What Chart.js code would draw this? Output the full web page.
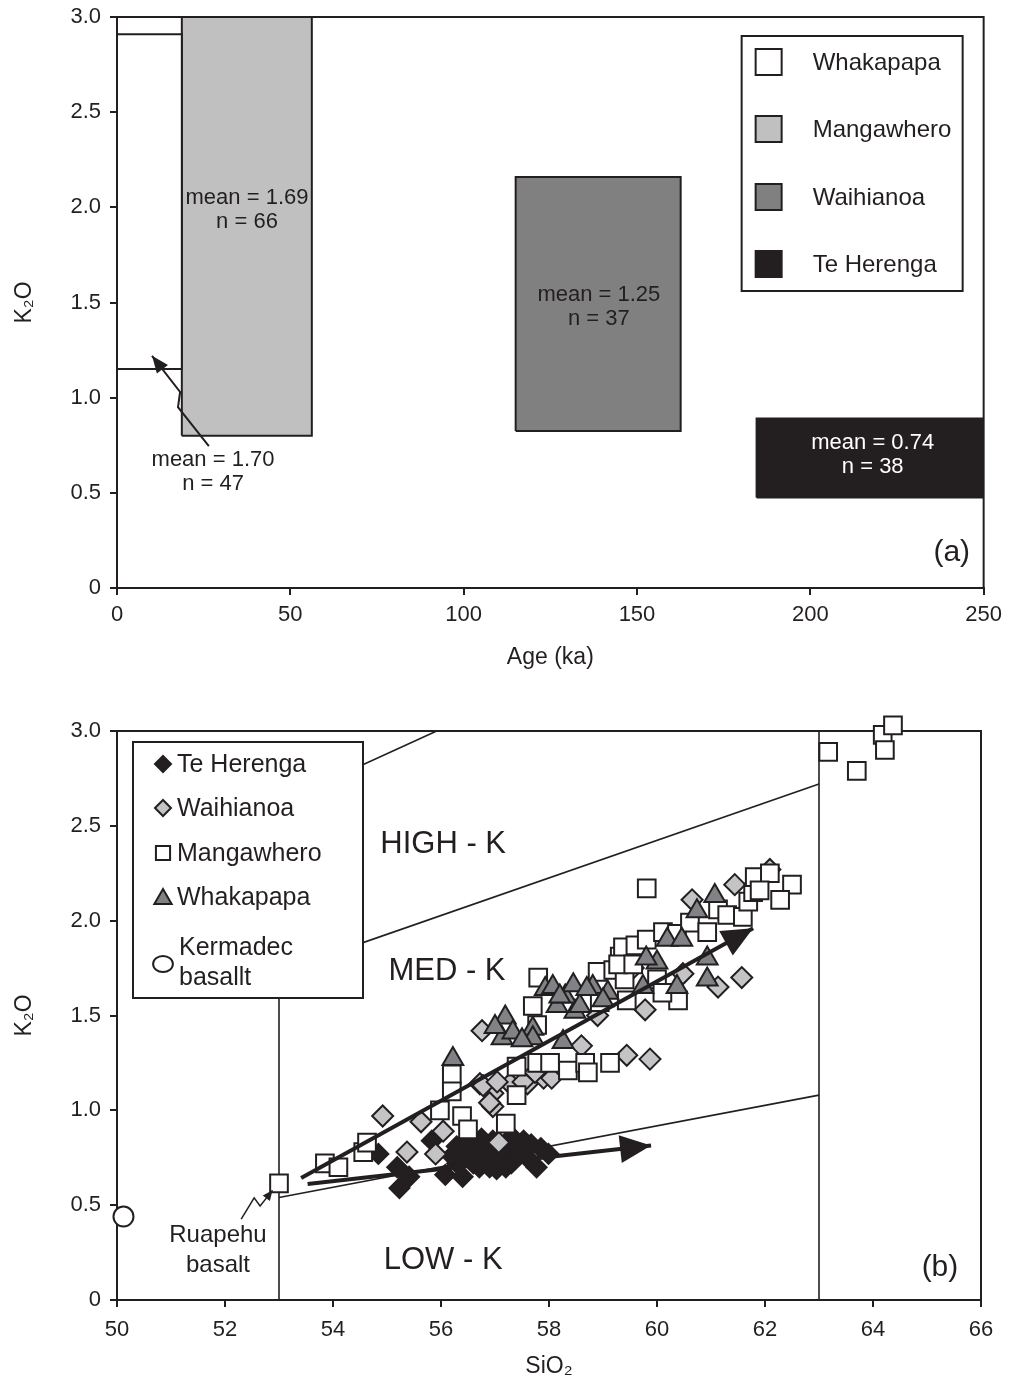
<!DOCTYPE html>
<html>
<head>
<meta charset="utf-8">
<title>K2O vs age and SiO2</title>
<script src="https://cdn.jsdelivr.net/npm/chart.js@4.4.1/dist/chart.umd.min.js"></script>
<style>
  html, body { margin: 0; padding: 0; background: #fff; }
  .panel { position: absolute; left: 0; }
  #panelA { top: 0; }
  #panelB { top: 700px; }
</style>
</head>
<body>
<div class="panel" id="panelA"><canvas id="ageChart" width="1009" height="690"></canvas></div>
<div class="panel" id="panelB"><canvas id="silicaChart" width="1009" height="686"></canvas></div>
<script>
const INK = '#231f20';
const FONT = '"Liberation Sans", Arial, Helvetica, sans-serif';

// ---- panel (a): K2O range of each formation against age ----
const units = ['Whakapapa', 'Mangawhero', 'Waihianoa', 'Te Herenga'];
const unitFills = ['#ffffff', '#c0c0c0', '#808080', '#231f20'];
const ageFrom = [0, 18.7, 115, 184.5];
const ageTo = [18.7, 56.2, 162.6, 250];
const k2oLow = [1.15, 0.80, 0.825, 0.475];
const k2oHigh = [2.91, 3.0, 2.16, 0.89];
const k2oMean = [1.70, 1.69, 1.25, 0.74];
const sampleCount = [47, 66, 37, 38];
const ageTicks = [0, 50, 100, 150, 200, 250];
const k2oTicks = [0, 0.5, 1.0, 1.5, 2.0, 2.5, 3.0];

// where the "mean / n" notes sit, in axis units
const noteAge = [27.7, 37.5, 139, 218];
const noteK2o = [0.673, 2.05, 1.54, 0.762];
// pointer from the Whakapapa note up to its box
const pointerAge = [26.5, 17.6, 18.2, 10.1];
const pointerK2o = [0.746, 0.95, 1.03, 1.22];

// ---- panel (b): K2O vs SiO2 ----
const silicaTicks = [50, 52, 54, 56, 58, 60, 62, 64, 66];

const teHerengaSiO2 = [55.23, 55.41, 55.19, 54.84, 55.83, 56.08, 56.40, 56.71, 57.03, 57.20, 57.77, 57.99,
  57.46, 57.53, 56.40, 56.65, 56.89, 57.24, 57.39, 56.82, 56.54, 57.10, 57.67, 56.96, 56.29, 56.30,
  56.60, 56.90, 57.30, 57.60, 57.15, 56.50, 57.35, 56.75, 56.20, 57.85];
const teHerengaK2O = [0.59, 0.65, 0.70, 0.77, 0.84, 0.66, 0.65, 0.70, 0.69, 0.70, 0.70, 0.77,
  0.79, 0.84, 0.78, 0.80, 0.78, 0.84, 0.76, 0.74, 0.76, 0.74, 0.82, 0.84, 0.81, 0.72,
  0.72, 0.70, 0.72, 0.75, 0.80, 0.83, 0.85, 0.85, 0.76, 0.80];

const waihianoaSiO2 = [54.92, 55.37, 55.63, 55.90, 56.04, 57.07, 56.72, 56.96, 56.96, 57.28, 57.60, 57.90,
  58.05, 57.74, 56.90, 56.78, 57.04, 57.52, 56.76, 58.60, 59.44, 59.87, 58.90, 59.78, 59.56, 60.48,
  60.65, 61.44, 62.09, 61.57, 61.13, 61.90];
const waihianoaK2O = [0.97, 0.78, 0.94, 0.77, 0.89, 0.83, 1.14, 1.09, 1.02, 1.14, 1.14, 1.17,
  1.17, 1.20, 1.04, 1.13, 1.15, 1.15, 1.42, 1.34, 1.29, 1.27, 1.50, 1.53, 1.75, 1.72,
  2.11, 2.19, 2.27, 1.70, 1.65, 2.21];

const mangawheroSiO2 = [53.00, 53.85, 54.10, 54.56, 54.63, 55.98, 56.39, 56.50, 57.20, 56.20, 56.20, 57.40,
  57.78, 58.02, 58.35, 58.67, 58.72, 59.13, 57.40, 57.80, 57.70, 57.78, 58.94, 59.44, 58.90, 59.19,
  59.31, 59.37, 59.60, 59.81, 59.40, 60.00, 59.28, 59.56, 60.11, 60.37, 60.39, 60.61, 60.93, 61.13,
  61.30, 61.59, 61.69, 61.78, 61.81, 62.09, 62.50, 62.28, 61.90, 59.81, 60.10, 63.17, 63.70, 64.18,
  64.37, 64.22];
const mangawheroK2O = [0.615, 0.72, 0.70, 0.78, 0.83, 1.00, 0.97, 0.90, 0.93, 1.19, 1.10, 1.23,
  1.25, 1.25, 1.21, 1.25, 1.20, 1.25, 1.08, 1.70, 1.55, 1.45, 1.57, 1.58, 1.73, 1.74,
  1.81, 1.86, 1.87, 1.90, 1.69, 1.69, 1.77, 1.77, 1.94, 1.93, 1.58, 1.99, 1.94, 2.06,
  2.03, 2.02, 2.10, 2.15, 2.23, 2.25, 2.19, 2.11, 2.16, 2.17, 1.62, 2.89, 2.79, 2.98,
  3.03, 2.90];

const whakapapaSiO2 = [56.22, 57.19, 57.13, 57.33, 57.70, 57.70, 57.00, 58.15, 58.48, 58.26, 57.93, 58.07,
  58.30, 58.57, 58.45, 58.81, 59.09, 59.00, 58.70, 59.74, 60.00, 59.80, 60.19, 60.46, 60.74, 61.07,
  60.93, 60.93, 60.37, 57.50, 58.20];
const whakapapaK2O = [1.27, 1.49, 1.38, 1.41, 1.43, 1.38, 1.44, 1.55, 1.52, 1.36, 1.64, 1.65,
  1.60, 1.55, 1.66, 1.65, 1.62, 1.58, 1.64, 1.65, 1.78, 1.80, 1.90, 1.90, 2.05, 2.13,
  1.80, 1.69, 1.65, 1.37, 1.60];

const kermadecSiO2 = [50.12];
const kermadecK2O = [0.44];

// field boundaries (Gill-type low / medium / high K)
const dividerSiO2 = [53, 63];
const dividerTopK2O = [2.62, 3.0];
const lowMedSiO2 = [53, 63];
const lowMedK2O = [0.54, 1.08];
const medHighSiO2 = [53, 63];
const medHighK2O = [1.73, 2.72];
const highShoSiO2 = [53, 55.92];
const highShoK2O = [2.62, 3.0];

// trend arrows
const upperTrendSiO2 = [53.41, 61.78];
const upperTrendK2O = [0.643, 1.96];
const lowerTrendSiO2 = [53.53, 59.89];
const lowerTrendK2O = [0.612, 0.814];

// Ruapehu basalt pointer
const ruapehuPointerSiO2 = [52.30, 52.54, 52.65, 52.88];
const ruapehuPointerK2O = [0.426, 0.539, 0.496, 0.578];

function pairs(xs, ys) {
  return xs.map((x, i) => ({ x, y: ys[i] }));
}

function k2oLabel(value) {
  return value === 0 ? '0' : value.toFixed(1);
}

function arrowHead(ctx, fromX, fromY, tipX, tipY, len, half) {
  const dx = tipX - fromX;
  const dy = tipY - fromY;
  const d = Math.hypot(dx, dy) || 1;
  const ux = dx / d;
  const uy = dy / d;
  const bx = tipX - ux * len;
  const by = tipY - uy * len;
  ctx.beginPath();
  ctx.moveTo(tipX, tipY);
  ctx.lineTo(bx - uy * half, by + ux * half);
  ctx.lineTo(bx + uy * half, by - ux * half);
  ctx.closePath();
  ctx.fill();
}

function marker(ctx, style, cx, cy, r, fill) {
  ctx.beginPath();
  if (style === 'rectRot') {
    ctx.moveTo(cx - r, cy);
    ctx.lineTo(cx, cy - r);
    ctx.lineTo(cx + r, cy);
    ctx.lineTo(cx, cy + r);
    ctx.closePath();
  } else if (style === 'rect') {
    const s = r * Math.SQRT1_2;
    ctx.rect(cx - s, cy - s, 2 * s, 2 * s);
  } else if (style === 'triangle') {
    ctx.moveTo(cx, cy - r);
    ctx.lineTo(cx + 0.866 * r, cy + 0.5 * r);
    ctx.lineTo(cx - 0.866 * r, cy + 0.5 * r);
    ctx.closePath();
  } else {
    ctx.ellipse(cx, cy, r * 1.1, r * 0.9, 0, 0, Math.PI * 2);
  }
  ctx.fillStyle = fill;
  ctx.fill();
  ctx.stroke();
}

function frameTopRight(chart) {
  const { ctx, chartArea: a } = chart;
  ctx.save();
  ctx.strokeStyle = INK;
  ctx.lineWidth = 2;
  ctx.beginPath();
  ctx.moveTo(a.left, a.top);
  ctx.lineTo(a.right, a.top);
  ctx.lineTo(a.right, a.bottom);
  ctx.stroke();
  ctx.restore();
}

function axisOptions(min, max, tickValues, labelFn, title, titlePad, labelPad, size) {
  return {
    type: 'linear',
    min,
    max,
    afterBuildTicks: (scale) => { scale.ticks = tickValues.map((value) => ({ value })); },
    afterFit: size,
    ticks: { color: INK, font: { family: FONT, size: 22 }, padding: labelPad, callback: labelFn },
    grid: { drawOnChartArea: false, drawTicks: true, tickLength: 7, color: INK, lineWidth: 2 },
    border: { color: INK, width: 2 },
    title: { display: true, text: title, color: INK, font: { family: FONT, size: 23 }, padding: titlePad }
  };
}

function fixWidth(w) {
  return (s) => {
    s.width = w;
    s.paddingTop = 0;
    s.paddingBottom = 0;
  };
}

// ---------- panel (a) ----------
const agePanelExtras = {
  id: 'agePanelExtras',
  beforeDatasetsDraw(chart) {
    frameTopRight(chart);
  },
  afterDatasetsDraw(chart) {
    const { ctx, chartArea: a, scales: { x, y } } = chart;
    ctx.save();
    ctx.textAlign = 'center';
    ctx.textBaseline = 'middle';
    ctx.font = `22px ${FONT}`;
    units.forEach((unit, i) => {
      const px = x.getPixelForValue(noteAge[i]);
      const py = y.getPixelForValue(noteK2o[i]);
      ctx.fillStyle = i === 3 ? '#ffffff' : INK;
      ctx.fillText(`mean = ${k2oMean[i].toFixed(2)}`, px, py);
      ctx.fillText(`n = ${sampleCount[i]}`, px, py + 24);
    });

    // pointer with a kink
    ctx.strokeStyle = INK;
    ctx.fillStyle = INK;
    ctx.lineWidth = 2;
    const pts = pointerAge.map((v, i) => [x.getPixelForValue(v), y.getPixelForValue(pointerK2o[i])]);
    ctx.beginPath();
    pts.forEach(([px, py], i) => (i ? ctx.lineTo(px, py) : ctx.moveTo(px, py)));
    ctx.stroke();
    const n = pts.length;
    arrowHead(ctx, pts[n - 2][0], pts[n - 2][1], pts[n - 1][0], pts[n - 1][1], 17, 7);

    // legend
    const bx = a.right - 242;
    const by = a.top + 19;
    ctx.fillStyle = '#ffffff';
    ctx.fillRect(bx, by, 221, 255);
    ctx.strokeRect(bx, by, 221, 255);
    ctx.font = `24px ${FONT}`;
    ctx.textAlign = 'left';
    [26, 93, 161, 228].forEach((dy, i) => {
      ctx.fillStyle = unitFills[i];
      ctx.fillRect(bx + 14, by + dy - 13, 26, 26);
      ctx.strokeRect(bx + 14, by + dy - 13, 26, 26);
      ctx.fillStyle = INK;
      ctx.fillText(units[i], bx + 71, by + dy + 1);
    });

    ctx.textAlign = 'center';
    ctx.font = `30px ${FONT}`;
    ctx.fillText('(a)', x.getPixelForValue(240.8), y.getPixelForValue(0.184));
    ctx.restore();
  }
};

new Chart(document.getElementById('ageChart'), {
  type: 'scatter',
  data: {
    datasets: units.map((unit, i) => ({
      label: unit,
      data: pairs(
        [ageFrom[i], ageTo[i], ageTo[i], ageFrom[i], ageFrom[i]],
        [k2oLow[i], k2oLow[i], k2oHigh[i], k2oHigh[i], k2oLow[i]]
      ),
      showLine: true,
      fill: 'shape',
      backgroundColor: unitFills[i],
      borderColor: INK,
      borderWidth: 2,
      pointRadius: 0,
      tension: 0
    }))
  },
  options: {
    responsive: false,
    animation: false,
    events: [],
    layout: { padding: { top: 17, right: 25, bottom: 0, left: 0 } },
    plugins: { legend: { display: false }, tooltip: { enabled: false } },
    scales: {
      x: axisOptions(0, 250, ageTicks, (v) => String(v), 'Age (ka)', { top: 4, bottom: 19 }, 7,
        (s) => { s.height = 102; }),
      y: axisOptions(0, 3, k2oTicks, k2oLabel, 'K₂O', { top: 11, bottom: 4 }, 9, fixWidth(117))
    }
  },
  plugins: [agePanelExtras]
});

// ---------- panel (b) ----------
const seriesNames = ['Te Herenga', 'Waihianoa', 'Mangawhero', 'Whakapapa'];
const seriesStyles = ['rectRot', 'rectRot', 'rect', 'triangle'];
const seriesFills = ['#231f20', '#c4c4c6', '#ffffff', '#808285'];

const silicaPanelExtras = {
  id: 'silicaPanelExtras',
  beforeDatasetsDraw(chart) {
    frameTopRight(chart);
  },
  afterDatasetsDraw(chart) {
    const { ctx, chartArea: a, scales: { x, y } } = chart;
    ctx.save();
    ctx.fillStyle = INK;
    ctx.strokeStyle = INK;

    chart.data.datasets.forEach((ds, i) => {
      if (!ds.trendArrow) return;
      const pts = chart.getDatasetMeta(i).data;
      const p0 = pts[0];
      const p1 = pts[pts.length - 1];
      arrowHead(ctx, p0.x, p0.y, p1.x, p1.y, 31, 14);
    });

    // Ruapehu basalt pointer
    ctx.lineWidth = 1.5;
    const rp = ruapehuPointerSiO2.map((v, i) => [x.getPixelForValue(v), y.getPixelForValue(ruapehuPointerK2O[i])]);
    ctx.beginPath();
    rp.forEach(([px, py], i) => (i ? ctx.lineTo(px, py) : ctx.moveTo(px, py)));
    ctx.stroke();
    const m = rp.length;
    arrowHead(ctx, rp[m - 2][0], rp[m - 2][1], rp[m - 1][0], rp[m - 1][1], 10, 4.5);

    ctx.textAlign = 'center';
    ctx.textBaseline = 'middle';
    ctx.font = `24px ${FONT}`;
    ctx.fillText('Ruapehu', x.getPixelForValue(51.87), y.getPixelForValue(0.34));
    ctx.fillText('basalt', x.getPixelForValue(51.87), y.getPixelForValue(0.18));

    ctx.font = `31px ${FONT}`;
    ctx.fillText('HIGH - K', x.getPixelForValue(56.04), y.getPixelForValue(2.40));
    ctx.fillText('MED - K', x.getPixelForValue(56.11), y.getPixelForValue(1.73));
    ctx.fillText('LOW - K', x.getPixelForValue(56.04), y.getPixelForValue(0.21));
    ctx.font = `30px ${FONT}`;
    ctx.fillText('(b)', x.getPixelForValue(65.24), y.getPixelForValue(0.17));

    // legend
    const bx = a.left + 16;
    const by = a.top + 11;
    ctx.lineWidth = 2;
    ctx.fillStyle = '#ffffff';
    ctx.fillRect(bx, by, 230, 256);
    ctx.strokeRect(bx, by, 230, 256);
    ctx.font = `25px ${FONT}`;
    ctx.textAlign = 'left';
    const sizes = [8, 8, 10, 10];
    [22, 66, 111, 155].forEach((dy, i) => {
      marker(ctx, seriesStyles[i], bx + 30, by + dy + (seriesStyles[i] === 'triangle' ? 2 : 0), sizes[i], seriesFills[i]);
      ctx.fillStyle = INK;
      ctx.fillText(seriesNames[i], bx + 44, by + dy + 1);
    });
    marker(ctx, 'circle', bx + 30, by + 222, 9, '#ffffff');
    ctx.fillStyle = INK;
    ctx.fillText('Kermadec', bx + 46, by + 206);
    ctx.fillText('basallt', bx + 46, by + 236);
    ctx.restore();
  }
};

const markerBase = { borderColor: INK, borderWidth: 2, clip: false, showLine: false };
const lineBase = { showLine: true, pointRadius: 0, borderColor: INK, fill: false, tension: 0 };

new Chart(document.getElementById('silicaChart'), {
  type: 'scatter',
  data: {
    datasets: [
      { ...lineBase, label: 'upper trend', trendArrow: true, order: 0, borderWidth: 4,
        data: pairs(upperTrendSiO2, upperTrendK2O) },
      { ...lineBase, label: 'lower trend', trendArrow: true, order: 0, borderWidth: 4,
        data: pairs(lowerTrendSiO2, lowerTrendK2O) },
      { ...markerBase, label: 'Whakapapa', order: 1, pointStyle: 'triangle', pointRadius: 12,
        backgroundColor: '#808285', data: pairs(whakapapaSiO2, whakapapaK2O) },
      { ...markerBase, label: 'Mangawhero', order: 2, pointStyle: 'rect', pointRadius: 12.5,
        backgroundColor: '#ffffff', data: pairs(mangawheroSiO2, mangawheroK2O) },
      { ...markerBase, label: 'Waihianoa', order: 3, pointStyle: 'rectRot', pointRadius: 10.5,
        backgroundColor: '#c4c4c6', data: pairs(waihianoaSiO2, waihianoaK2O) },
      { ...markerBase, label: 'Te Herenga', order: 4, pointStyle: 'rectRot', pointRadius: 10,
        backgroundColor: '#231f20', data: pairs(teHerengaSiO2, teHerengaK2O) },
      { ...markerBase, label: 'Kermadec basalt', order: 5, pointStyle: 'circle', pointRadius: 10,
        backgroundColor: '#ffffff', data: pairs(kermadecSiO2, kermadecK2O) },
      { ...lineBase, label: 'divider 53', order: 6, borderWidth: 1.6,
        data: pairs([dividerSiO2[0], dividerSiO2[0]], [0, dividerTopK2O[0]]) },
      { ...lineBase, label: 'divider 63', order: 6, borderWidth: 1.6,
        data: pairs([dividerSiO2[1], dividerSiO2[1]], [0, dividerTopK2O[1]]) },
      { ...lineBase, label: 'low/med K', order: 6, borderWidth: 1.6, data: pairs(lowMedSiO2, lowMedK2O) },
      { ...lineBase, label: 'med/high K', order: 6, borderWidth: 1.6, data: pairs(medHighSiO2, medHighK2O) },
      { ...lineBase, label: 'high K/shoshonite', order: 6, borderWidth: 1.6, data: pairs(highShoSiO2, highShoK2O) }
    ]
  },
  options: {
    responsive: false,
    animation: false,
    events: [],
    layout: { padding: { top: 31, right: 28, bottom: 0, left: 0 } },
    plugins: { legend: { display: false }, tooltip: { enabled: false } },
    scales: {
      x: axisOptions(50, 66, silicaTicks, (v) => String(v), 'SiO₂', { top: 4, bottom: 6 }, 10,
        (s) => { s.height = 86; }),
      y: axisOptions(0, 3, k2oTicks, k2oLabel, 'K₂O', { top: 11, bottom: 4 }, 9, fixWidth(117))
    }
  },
  plugins: [silicaPanelExtras]
});
</script>
</body>
</html>
